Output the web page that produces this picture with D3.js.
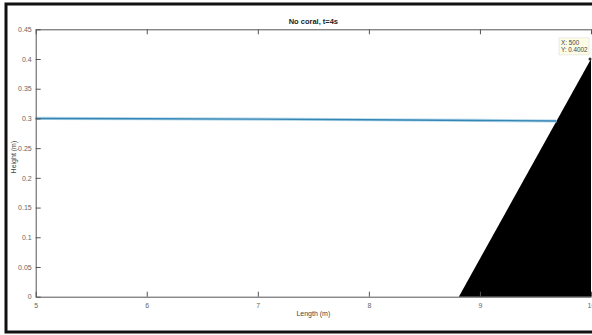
<!DOCTYPE html>
<html>
<head>
<meta charset="utf-8">
<script src="https://cdn.jsdelivr.net/npm/d3@7"></script>
<style>
  body { margin: 0; background: #fff; overflow: hidden; }
  text { font-family: "Liberation Sans", Arial, sans-serif; }
</style>
</head>
<body>
<div id="chart"></div>
<script>
// chart data
var xTicks = [5, 6, 7, 8, 9, 10];
var yTicks = [0, 0.05, 0.1, 0.15, 0.2, 0.25, 0.3, 0.35, 0.4, 0.45];
var waterX = [5, 6, 7, 8, 9, 9.69];
var waterY = [0.3, 0.2995, 0.2988, 0.2978, 0.2966, 0.2957];
var bedX = [8.81, 10, 10];
var bedY = [0, 0.4002, 0];
var tipX = 10, tipY = 0.4002;
var tipLines = ["X: 500", "Y: 0.4002"];

var svgWidth = 592;
var svgHeight = 335;

var margin = { top: 29.3, right: 1, bottom: 38.3, left: 35.7 };
var chartWidth = svgWidth - margin.left - margin.right;
var chartHeight = svgHeight - margin.top - margin.bottom;

var svg = d3.select("#chart")
            .append("svg")
            .attr("width", svgWidth)
            .attr("height", svgHeight);

// outer frame of the screenshot (right side runs off the picture)
svg.append("rect")
   .attr("x", 6).attr("y", 4)
   .attr("width", 600).attr("height", 328)
   .attr("fill", "none")
   .attr("stroke", "#111")
   .attr("stroke-width", 3);

var chartGroup = svg.append("g")
                    .attr("transform", `translate(${margin.left}, ${margin.top})`);

var xScale = d3.scaleLinear().domain([5, 10]).range([0, chartWidth]);
var yScale = d3.scaleLinear().domain([0, 0.45]).range([chartHeight, 0]);

// bed (black wedge)
var area = d3.line().x((d, i) => xScale(bedX[i])).y((d, i) => yScale(bedY[i]));
chartGroup.append("path")
          .attr("d", area(bedX) + "Z")
          .attr("fill", "#000");

// water surface
var line = d3.line().x((d, i) => xScale(waterX[i])).y((d, i) => yScale(waterY[i]));
chartGroup.append("path")
          .attr("d", line(waterX))
          .attr("fill", "none")
          .attr("stroke", "#b5d9ec")
          .attr("stroke-width", 3.2);
chartGroup.append("path")
          .attr("d", line(waterX))
          .attr("fill", "none")
          .attr("stroke", "#3686b4")
          .attr("stroke-width", 1.4);

// axes, MATLAB style (ticks inward, box on)
var axisColor = "#555";
function styleAxis(g) {
  g.select(".domain").attr("stroke", axisColor);
  g.selectAll(".tick line").attr("stroke", axisColor);
  g.selectAll(".tick text").attr("fill", "#666").attr("font-size", 7);
}

chartGroup.append("g")
  .attr("transform", `translate(0, ${chartHeight})`)
  .call(d3.axisBottom(xScale).tickValues(xTicks).tickSizeInner(-5).tickSizeOuter(0).tickPadding(6).tickFormat(d3.format("d")))
  .call(styleAxis);

chartGroup.append("g")
  .call(d3.axisTop(xScale).tickValues(xTicks).tickSizeInner(-5).tickSizeOuter(0).tickFormat(""))
  .call(styleAxis);

chartGroup.append("g")
  .call(d3.axisLeft(yScale).tickValues(yTicks).tickSizeInner(-5).tickSizeOuter(0).tickPadding(4).tickFormat(d => d3.format("")(+d.toFixed(2))))
  .call(styleAxis);

// title and labels
chartGroup.append("text")
  .attr("x", chartWidth / 2).attr("y", -5)
  .attr("text-anchor", "middle")
  .attr("font-size", 7.5).attr("font-weight", "bold").attr("fill", "#222")
  .text("No coral, t=4s");

chartGroup.append("text")
  .attr("x", chartWidth / 2).attr("y", chartHeight + 19)
  .attr("text-anchor", "middle")
  .attr("font-size", 7).attr("fill", "#444")
  .text("Length (m)");

chartGroup.append("text")
  .attr("transform", `translate(${-20}, ${yScale(0.235)}) rotate(-90)`)
  .attr("text-anchor", "middle")
  .attr("font-size", 7).attr("fill", "#444")
  .text("Height (m)");

// data tip
var tx = xScale(tipX), ty = yScale(tipY);
chartGroup.append("rect")
  .attr("x", tx - 32).attr("y", ty - 21)
  .attr("width", 30).attr("height", 17)
  .attr("fill", "#fdfde6")
  .attr("stroke", "#ddd")
  .attr("stroke-width", 0.6);
chartGroup.selectAll(".tip")
  .data(tipLines)
  .enter().append("text")
  .attr("x", tx - 30)
  .attr("y", (d, i) => ty - 14 + i * 7.5)
  .attr("font-size", 6.3).attr("fill", "#444")
  .text(d => d);
chartGroup.append("circle")
  .attr("cx", tx - 1).attr("cy", ty)
  .attr("r", 1.5).attr("fill", "#333");
</script>
</body>
</html>
